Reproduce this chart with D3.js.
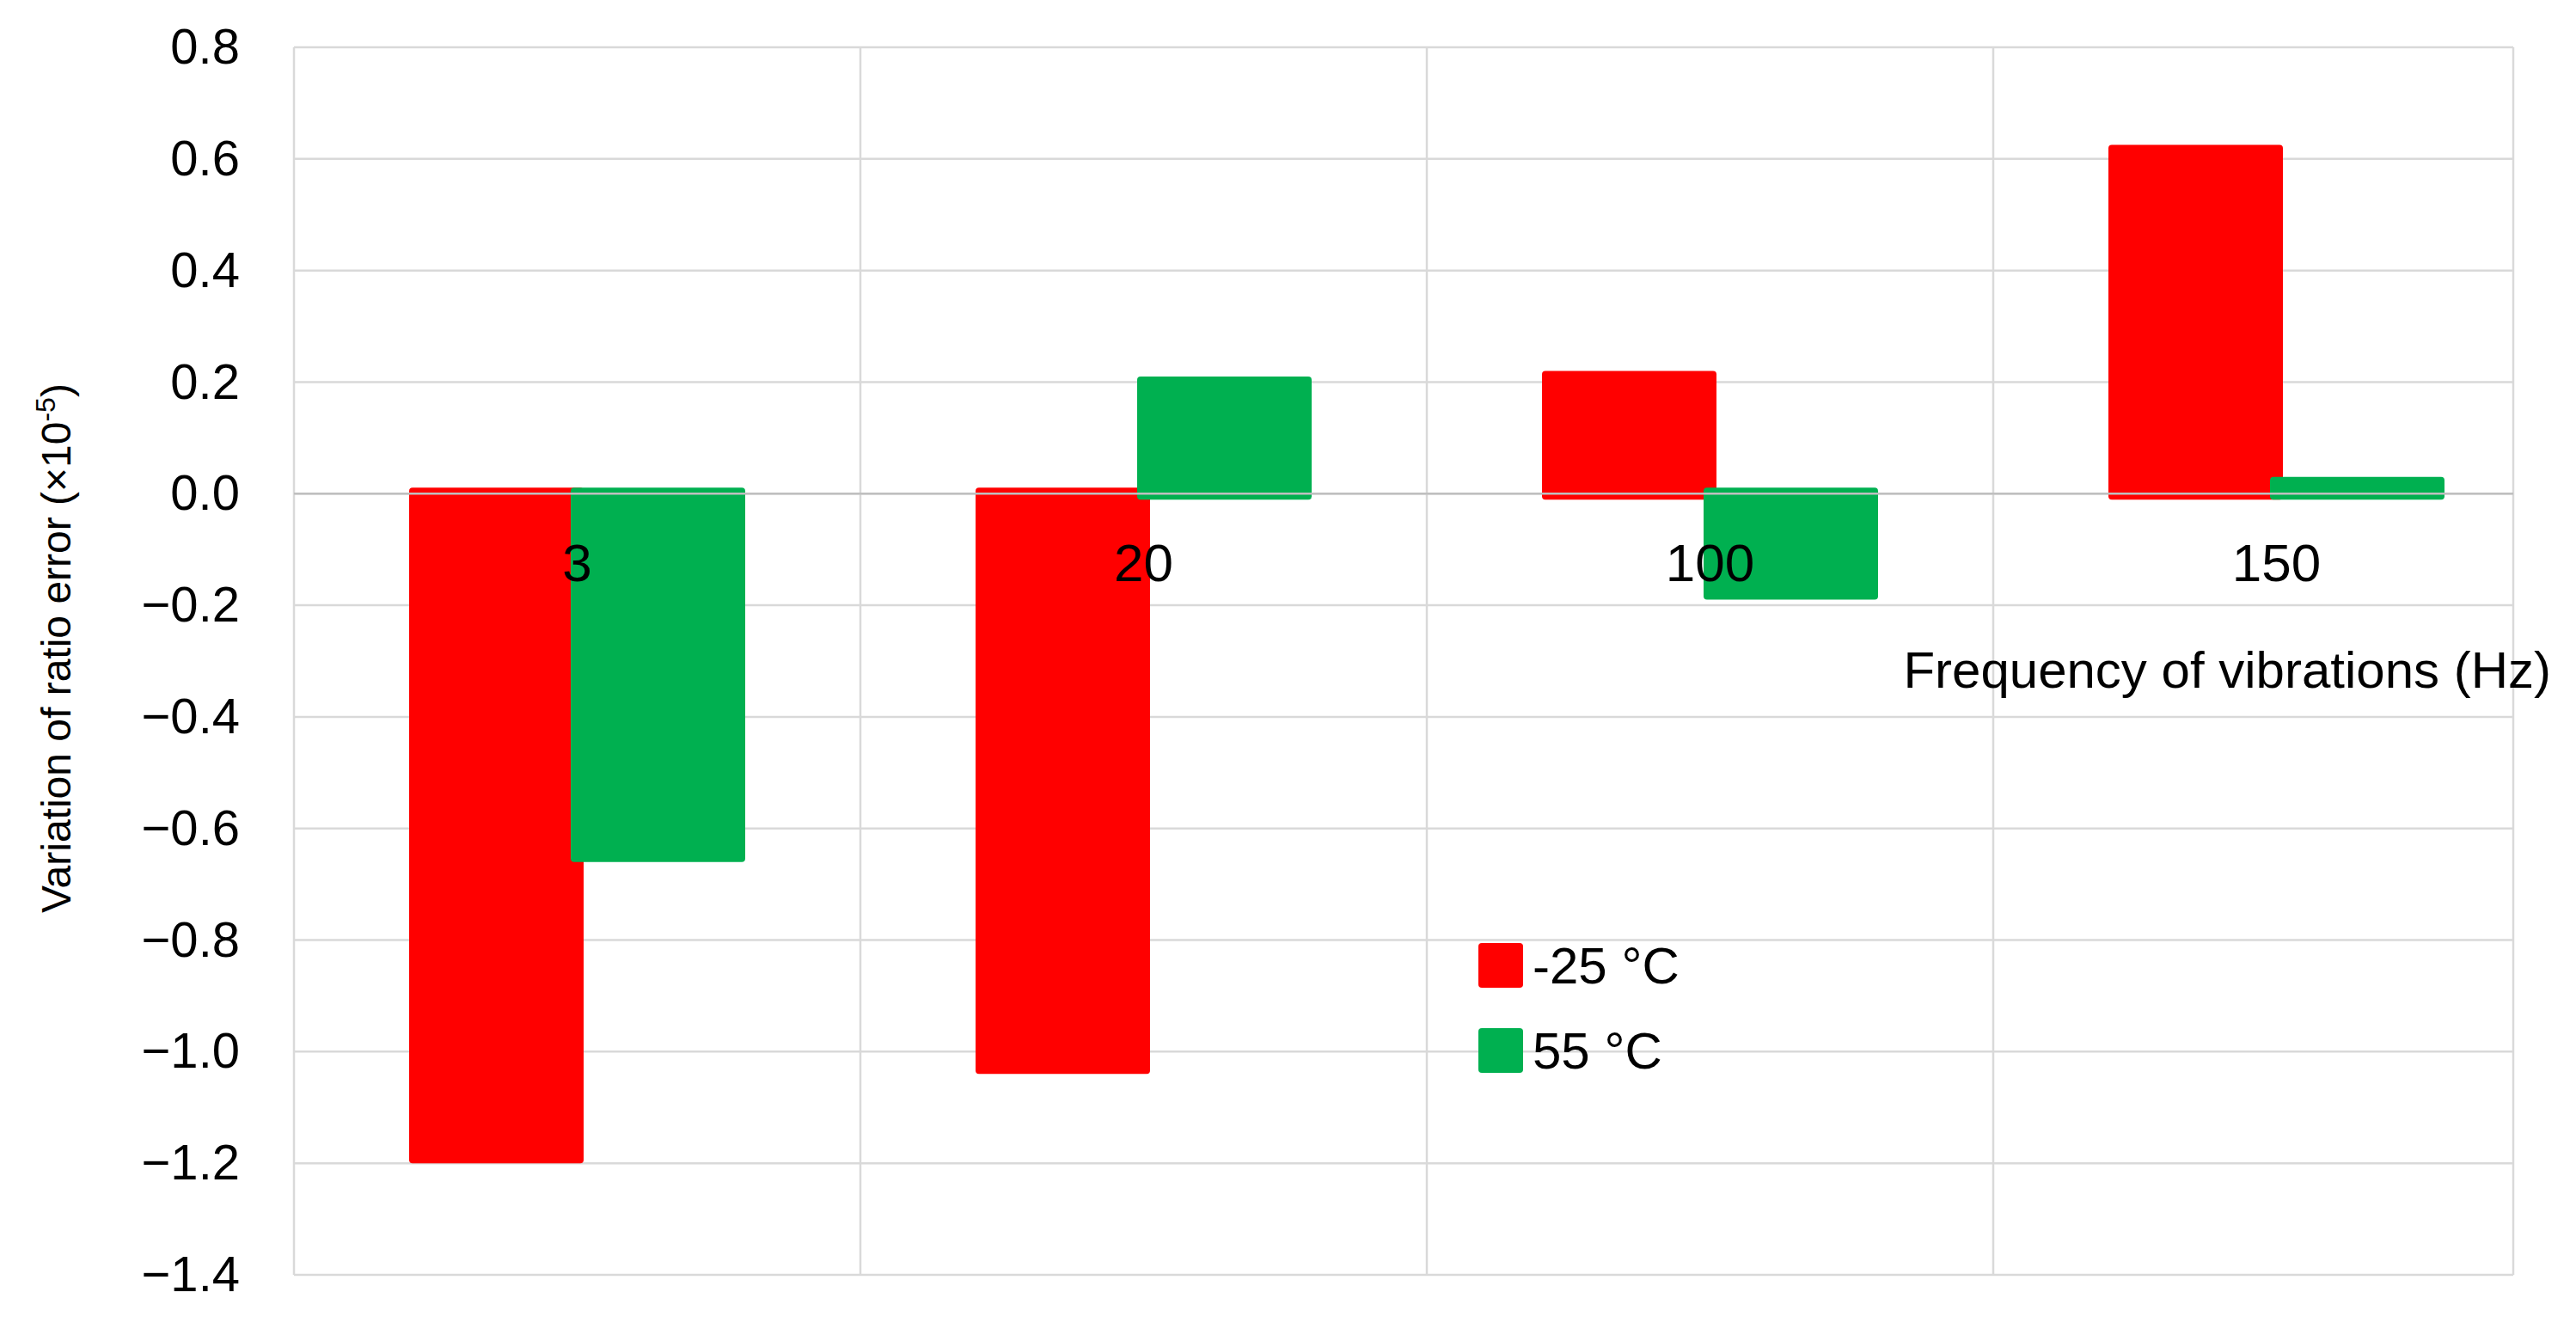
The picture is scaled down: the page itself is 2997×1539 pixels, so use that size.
<!DOCTYPE html>
<html><head><meta charset="utf-8">
<script src="https://cdn.jsdelivr.net/npm/d3@7"></script>
<style>body{margin:0;background:#fff}text{font-family:"Liberation Sans",Arial,sans-serif}</style>
</head><body>
<svg id="c" width="2997" height="1539"></svg>
<script>
const categories = ["3","20","100","150"];
const seriesNames = ["-25 °C","55 °C"];
const seriesColors = ["#ff0000","#00b050"];
const valuesCold = [-1.2,-1.04,0.22,0.625];
const valuesHot = [-0.66,0.21,-0.19,0.03];
const yTicks = [0.8,0.6,0.4,0.2,0.0,-0.2,-0.4,-0.6,-0.8,-1.0,-1.2,-1.4];

const svg = d3.select("#c");
const L=342,R=2924,T=55,B=1483,band=659;
const x = d3.scaleBand().domain(categories).range([L,L+band*4]);
const y = d3.scaleLinear().domain([-1.4,0.8]).range([B,T]);
const g = svg.append("g");
// grid
g.selectAll(".hg").data(yTicks).join("line").attr("x1",L).attr("x2",R)
 .attr("y1",d=>y(d)).attr("y2",d=>y(d)).attr("stroke","#d9d9d9").attr("stroke-width",2.5);
const vb=[L].concat(categories.slice(1).map(c=>x(c))).concat([R]);
g.selectAll(".vg").data(vb).join("line").attr("x1",d=>d).attr("x2",d=>d)
 .attr("y1",T).attr("y2",B).attr("stroke","#d9d9d9").attr("stroke-width",2.5);
// y labels
const ya = d3.axisLeft(y).tickValues(yTicks).tickFormat(d3.format(".1f")).tickSize(0).tickPadding(63);
const yg = svg.append("g").attr("transform",`translate(${L},0)`).call(ya);
yg.select(".domain").remove();
yg.selectAll("text").attr("font-size",58).attr("fill","#000").attr("font-family","Liberation Sans, Arial");
// bars
const bw=203, off=94;
const series=[valuesCold,valuesHot];
series.forEach((vals,si)=>{
  svg.append("g").selectAll("rect").data(vals).join("rect")
   .attr("x",(d,i)=>x(categories[i])+band/2+(si===0?-off:off)-bw/2)
   .attr("width",bw)
   .attr("y",d=>Math.min(y(d),y(0))-(d<0?7:0))
   .attr("height",d=>Math.abs(y(d)-y(0))+7)
   .attr("rx",4).attr("fill",seriesColors[si]);
});
// zero line
svg.append("line").attr("x1",L).attr("x2",R).attr("y1",y(0)).attr("y2",y(0)).attr("stroke","#bfbfbf").attr("stroke-width",2.5);
// category labels
svg.append("g").selectAll("text").data(categories).join("text")
 .attr("x",d=>x(d)+band/2).attr("y",y(0)+102).attr("text-anchor","middle")
 .attr("font-size",62).text(d=>d);
// axis titles
svg.append("text").attr("x",2968).attr("y",800).attr("text-anchor","end").attr("font-size",60)
 .text("Frequency of vibrations (Hz)");
const yt = svg.append("text").attr("transform",`translate(82,${(T+B)/2-15}) rotate(-90)`)
 .attr("text-anchor","middle").attr("font-size",48);
yt.append("tspan").text("Variation  of ratio error (×10");
yt.append("tspan").attr("baseline-shift","super").attr("font-size",32).text("-5");
yt.append("tspan").text(")");
// legend
const lg = svg.append("g").selectAll("g").data(seriesNames).join("g")
 .attr("transform",(d,i)=>`translate(1720,${1097+i*99})`);
lg.append("rect").attr("width",52).attr("height",52).attr("rx",4).attr("fill",(d,i)=>seriesColors[i]);
lg.append("text").attr("x",63).attr("y",26).attr("dy","0.35em").attr("font-size",60).text(d=>d);
</script>
</body></html>
